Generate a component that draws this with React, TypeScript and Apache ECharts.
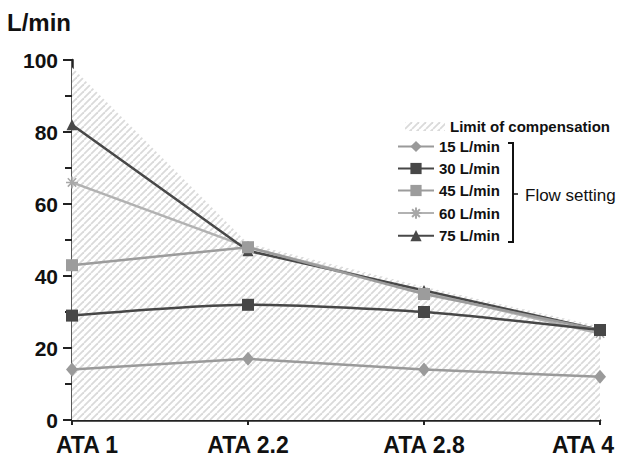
import React, { useEffect, useRef } from "react";
import * as echarts from "echarts";

const categories = ["ATA 1", "ATA 2.2", "ATA 2.8", "ATA 4"];
const limitValues = [98, 49, 37, 26];
const flow15 = [14, 17, 14, 12];
const flow30 = [29, 32, 30, 25];
const flow45 = [43, 48, 35, 25];
const flow60 = [66, 48, 35.5, 24];
const flow75 = [82, 47, 36, 25];
const yTicks = [0, 20, 40, 60, 80, 100];

const FONT = "'Liberation Sans', Arial, Helvetica, sans-serif";
const ASTERISK = "path://M0,5L10,5M5,0L5,10M1.5,1.5L8.5,8.5M8.5,1.5L1.5,8.5";

function makeHatch() {
  const s = 7;
  const c = document.createElement("canvas");
  c.width = s;
  c.height = s;
  const ctx = c.getContext("2d")!;
  ctx.fillStyle = "#ffffff";
  ctx.fillRect(0, 0, s, s);
  ctx.strokeStyle = "#dadada";
  ctx.lineWidth = 1.8;
  for (const k of [-s, 0, s]) {
    ctx.beginPath();
    ctx.moveTo(k, s);
    ctx.lineTo(k + s, 0);
    ctx.stroke();
  }
  return c;
}

export default function App() {
  const ref = useRef<HTMLDivElement>(null);
  useEffect(() => {
    if (!ref.current) return;
    const chart = echarts.init(ref.current, null, { renderer: "svg" });
    const hatch = { image: makeHatch(), repeat: "repeat" } as any;
    const lineSeries = (name: string, data: number[], color: string, symbol: string, size: any, extra: any = {}) => ({
      name,
      type: "line",
      data,
      symbol,
      symbolSize: size,
      lineStyle: { color, width: 2.5 },
      itemStyle: { color },
      z: 3,
      ...extra,
    });
    chart.setOption({
      animation: false,
      title: {
        text: "L/min",
        left: 7,
        top: 10,
        padding: 0,
        textStyle: { fontFamily: FONT, fontSize: 24, fontWeight: "bold", color: "#111" },
      },
      grid: { left: 72, right: 25, top: 60, bottom: 39, containLabel: false },
      legend: [
        {
          orient: "vertical",
          left: 400,
          top: 114,
          itemWidth: 40,
          itemHeight: 9,
          data: [{ name: "Limit of compensation", icon: "rect", itemStyle: { color: hatch } }],
          textStyle: { fontFamily: FONT, fontSize: 15, fontWeight: "bold", color: "#111" },
        },
        {
          orient: "vertical",
          left: 392,
          top: 134,
          itemWidth: 36,
          itemHeight: 14,
          itemGap: 7,
          data: ["15 L/min", "30 L/min", "45 L/min", "60 L/min", "75 L/min"],
          textStyle: { fontFamily: FONT, fontSize: 15, fontWeight: "bold", color: "#111" },
        },
      ],
      xAxis: {
        type: "category",
        data: [
          { value: categories[0], textStyle: { padding: [0, 0, 0, 30] } },
          categories[1],
          categories[2],
          { value: categories[3], textStyle: { padding: [0, 34, 0, 0] } },
        ],
        boundaryGap: false,
        axisLine: { lineStyle: { color: "#222", width: 2.5 } },
        axisTick: { show: true, length: 5, lineStyle: { color: "#222", width: 2 } },
        axisLabel: { fontFamily: FONT, fontSize: 23, fontWeight: "bold", color: "#111", margin: 13 },
      },
      yAxis: {
        type: "value",
        min: yTicks[0],
        max: yTicks[yTicks.length - 1],
        interval: 20,
        splitLine: { show: false },
        axisLine: { show: true, lineStyle: { color: "#222", width: 2.5 } },
        axisTick: { show: true, length: 9, lineStyle: { color: "#222", width: 2 } },
        minorTick: { show: true, splitNumber: 2, length: 7, lineStyle: { color: "#222", width: 2 } },
        axisLabel: { fontFamily: FONT, fontSize: 21, fontWeight: "bold", color: "#111", margin: 14 },
      },
      graphic: [
        {
          type: "polyline",
          shape: { points: [[508, 143], [513, 143], [513, 242], [508, 242]] },
          style: { stroke: "#111", lineWidth: 2, fill: "none" },
        },
        {
          type: "line",
          shape: { x1: 513, y1: 194, x2: 518, y2: 194 },
          style: { stroke: "#111", lineWidth: 1.5 },
        },
        {
          type: "text",
          x: 525,
          y: 195,
          style: { text: "Flow setting", fontFamily: FONT, fontSize: 17, fill: "#111", verticalAlign: "middle", align: "left" },
        },
      ],
      series: [
        {
          name: "Limit of compensation",
          type: "line",
          data: limitValues,
          symbol: "none",
          lineStyle: { width: 0 },
          itemStyle: { color: hatch },
          areaStyle: { color: hatch, opacity: 1 },
          z: 1,
        },
        lineSeries("60 L/min", flow60, "#b2b2b2", ASTERISK, 12, {
          itemStyle: { color: "none", borderColor: "#a8a8a8", borderWidth: 1.5 },
        }),
        lineSeries("75 L/min", flow75, "#484848", "triangle", 11),
        lineSeries("45 L/min", flow45, "#9c9c9c", "rect", 12),
        lineSeries("15 L/min", flow15, "#9a9a9a", "diamond", [12, 14]),
        lineSeries("30 L/min", flow30, "#474747", "rect", 12, { smooth: 0.25 }),
      ],
    });
    return () => chart.dispose();
  }, []);
  return <div ref={ref} style={{ position: "absolute", left: 0, top: 0, width: 625, height: 459 }} />;
}
